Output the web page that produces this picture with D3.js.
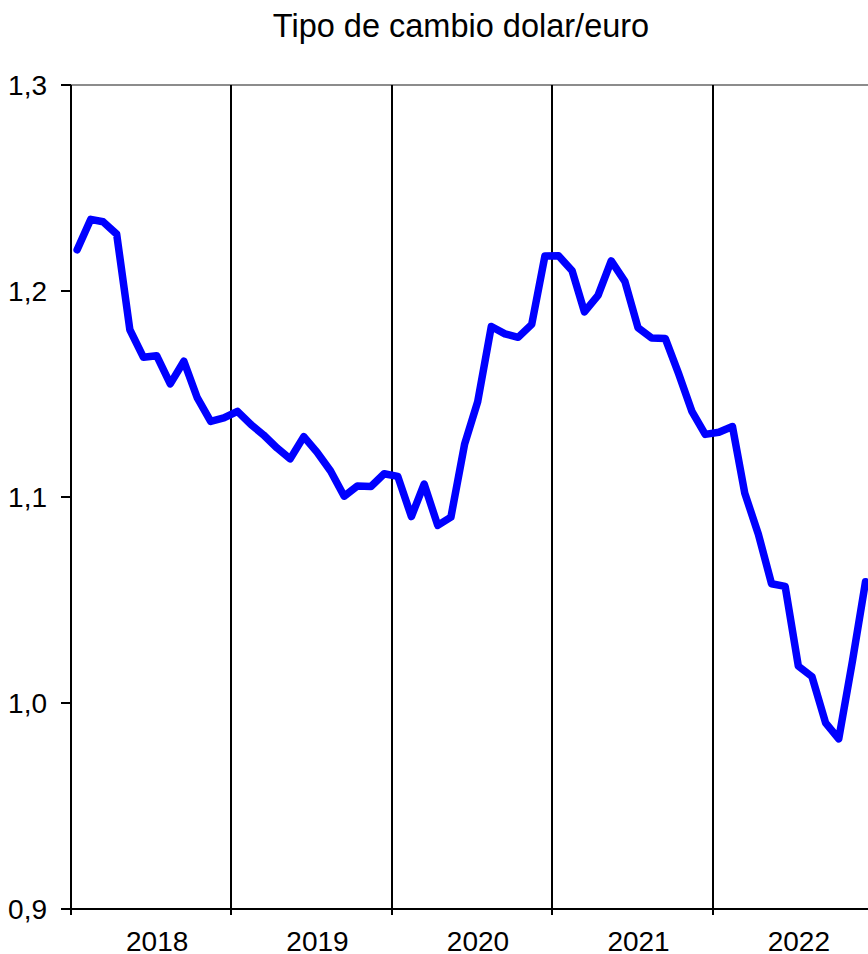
<!DOCTYPE html>
<html>
<head>
<meta charset="utf-8">
<script src="https://cdn.jsdelivr.net/npm/d3@7"></script>
<style>
  html, body { margin: 0; padding: 0; background: #fff; }
  svg { display: block; }
  text { font-family: "Liberation Sans", Arial, sans-serif; fill: #000; }
</style>
</head>
<body>
<svg id="chart" width="868" height="954"></svg>
<script>
// Monthly average USD per EUR, January to December of each year
const years = [2018, 2019, 2020, 2021, 2022];
const rate2018 = [1.2200, 1.2348, 1.2336, 1.2276, 1.1812, 1.1678, 1.1686, 1.1549, 1.1659, 1.1484, 1.1367, 1.1384];
const rate2019 = [1.1416, 1.1351, 1.1302, 1.1238, 1.1185, 1.1293, 1.1218, 1.1126, 1.1004, 1.1053, 1.1051, 1.1113];
const rate2020 = [1.1100, 1.0905, 1.1063, 1.0862, 1.0902, 1.1255, 1.1463, 1.1828, 1.1792, 1.1775, 1.1838, 1.2170];
const rate2021 = [1.2171, 1.2098, 1.1899, 1.1979, 1.2146, 1.2047, 1.1822, 1.1772, 1.1770, 1.1601, 1.1414, 1.1304];
const rate2022 = [1.1314, 1.1342, 1.1019, 1.0819, 1.0579, 1.0566, 1.0179, 1.0128, 0.9904, 0.9826, 1.0201, 1.0589];
const yTicks = [0.9, 1.0, 1.1, 1.2, 1.3];
const title = "Tipo de cambio dolar/euro";

const series = [rate2018, rate2019, rate2020, rate2021, rate2022];
const data = [];
series.forEach((vals, yi) => {
  vals.forEach((v, m) => data.push({ date: new Date(years[yi], m, 15), value: v }));
});

const svg = d3.select("#chart");
const plotLeft = 71, plotTop = 85, plotBottom = 909, viewRight = 868;

const x = d3.scaleTime()
  .domain([new Date(2018, 0, 1), new Date(2023, 0, 1)])
  .range([plotLeft, 873]);
const y = d3.scaleLinear().domain([0.9, 1.3]).range([plotBottom, plotTop]);

const fmt = d3.formatLocale({ decimal: ",", thousands: ".", grouping: [3], currency: ["", " €"] }).format(".1f");

// Title
svg.append("text")
  .attr("x", 461).attr("y", 37)
  .attr("text-anchor", "middle")
  .style("font-size", "32.5px")
  .text(title);

// Top border of the plot area
svg.append("line")
  .attr("x1", plotLeft).attr("x2", viewRight)
  .attr("y1", plotTop).attr("y2", plotTop)
  .attr("stroke", "#8c8c8c").attr("stroke-width", 2);

// Year separators (run through the axis as tick marks)
const boundaries = years.slice(1).map(yr => new Date(yr, 0, 1));
svg.append("g").selectAll("line")
  .data(boundaries)
  .join("line")
  .attr("x1", d => Math.round(x(d))).attr("x2", d => Math.round(x(d)))
  .attr("y1", plotTop).attr("y2", plotBottom + 6)
  .attr("stroke", "#000").attr("stroke-width", 2);

// Bottom axis
const xAxis = d3.axisBottom(x)
  .tickValues([new Date(2018, 0, 1)])
  .tickSize(6)
  .tickSizeOuter(0)
  .offset(0)
  .tickFormat("");
const gx = svg.append("g").attr("transform", `translate(0,${plotBottom})`).call(xAxis);
gx.select(".domain").attr("stroke", "#000").attr("stroke-width", 2)
  .attr("d", `M${plotLeft},0H${viewRight}`);
gx.selectAll(".tick line").attr("stroke", "#000").attr("stroke-width", 2);

// Year labels
svg.append("g").selectAll("text")
  .data(years)
  .join("text")
  .attr("x", yr => (x(new Date(yr, 0, 1)) + x(new Date(yr + 1, 0, 1))) / 2 + 6)
  .attr("y", 951)
  .attr("text-anchor", "middle")
  .style("font-size", "28px")
  .text(yr => yr);

// Left axis
const yAxis = d3.axisLeft(y)
  .tickValues(yTicks)
  .tickSize(10)
  .tickSizeOuter(0)
  .tickPadding(14)
  .offset(0)
  .tickFormat(fmt);
const gy = svg.append("g").attr("transform", `translate(${plotLeft},0)`).call(yAxis);
gy.select(".domain").attr("stroke", "#000").attr("stroke-width", 2);
gy.selectAll(".tick line").attr("stroke", "#000").attr("stroke-width", 2);
gy.selectAll(".tick text").style("font-size", "28px").attr("dy", "0.36em")
  .style("font-family", "'Liberation Sans', Arial, sans-serif");

// Exchange rate line
const line = d3.line().x(d => x(d.date)).y(d => y(d.value));
svg.append("path")
  .datum(data)
  .attr("d", line)
  .attr("fill", "none")
  .attr("stroke", "#0000ff")
  .attr("stroke-width", 7.5)
  .attr("stroke-linejoin", "round")
  .attr("stroke-linecap", "round");
</script>
</body>
</html>
